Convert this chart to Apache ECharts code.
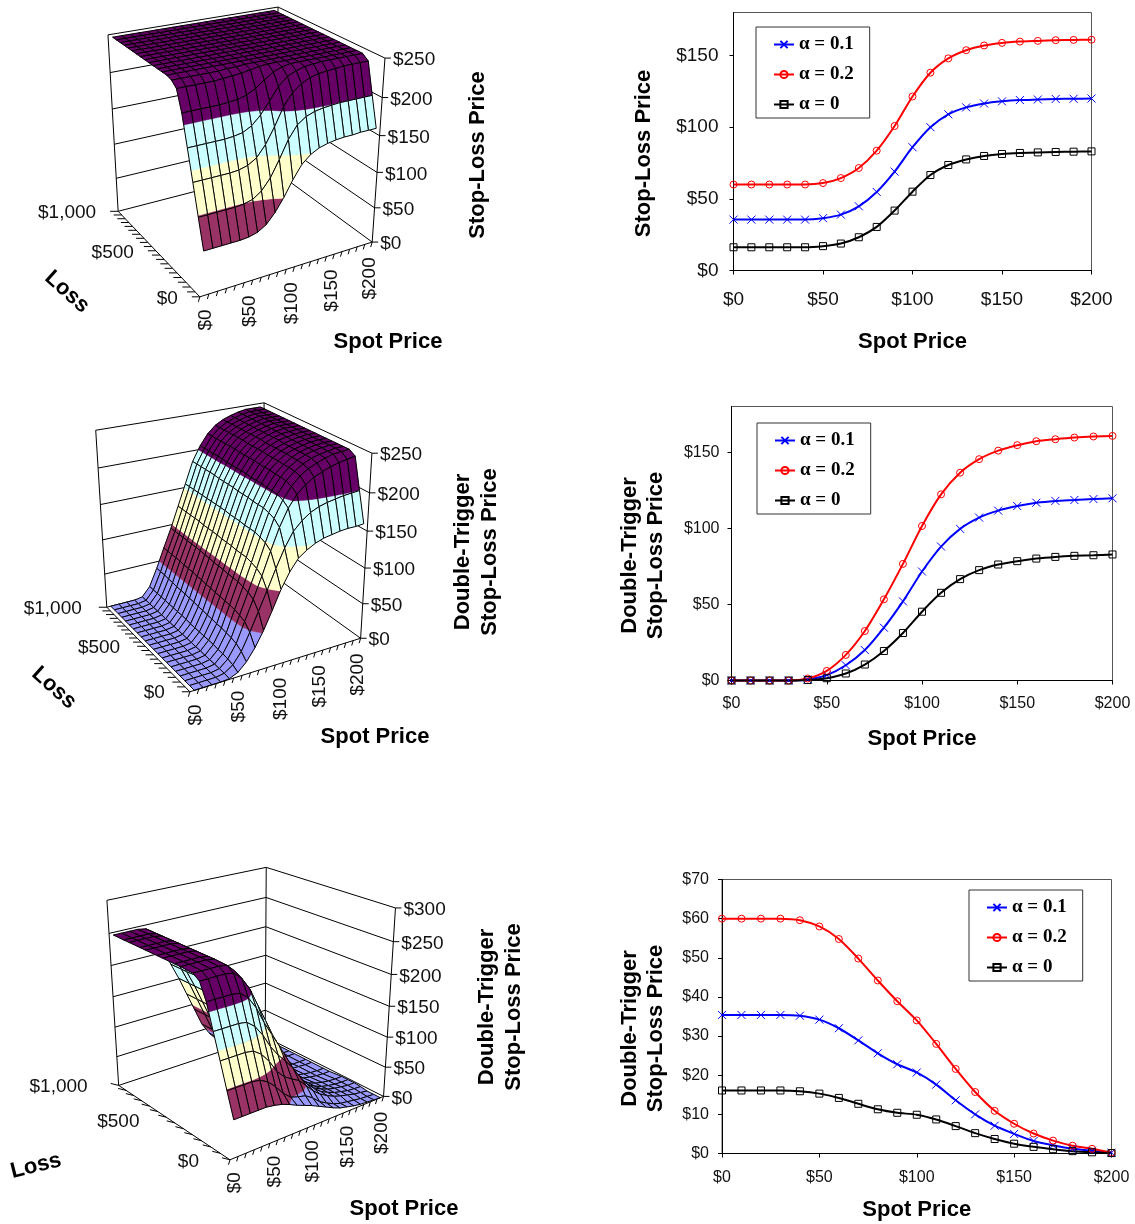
<!DOCTYPE html>
<html><head><meta charset="utf-8">
<style>html,body{margin:0;padding:0;background:#fff}#c{width:1135px;height:1224px}</style>
<script src="https://cdn.jsdelivr.net/npm/echarts@6/dist/echarts.min.js"></script>
</head><body><div id="c"></div>
<script>
// ---------- data ----------
const spotPrices=[0,10,20,30,40,50,60,70,80,90,100,110,120,130,140,150,160,170,180,190,200];
const alphaNames=['α = 0.1','α = 0.2','α = 0'];

const stopLoss01=[35.5,35.5,35.5,35.5,35.5,36.5,39,44.8,54.8,69,86,100,109,113.8,116.5,118,118.9,119.3,119.7,119.8,120];
const stopLoss02=[60,60,60,60,60,61,64.5,71.5,83.6,100.8,121.4,138,148,153.7,157,158.8,159.7,160.2,160.7,160.9,161];
const stopLoss00=[16.2,16.2,16.2,16.2,16.2,17,18.8,23.2,30.4,41.8,55,66.6,73.6,77.5,79.9,81.3,82,82.4,82.7,82.9,83.1];

const double01=[0,0,0,0,0.7,3.5,10,20,34.7,52,71.6,88,99.6,107,111.6,114.6,116.8,118,118.6,119.2,119.7];
const double02=[0,0,0,0,1.3,6.3,16.8,32.5,53.3,76.6,101.5,122.3,136.5,145.4,151,154.6,157.2,158.5,159.6,160.3,160.7];
const double00=[0,0,0,0,0.3,1.5,4.6,10.5,19.4,31.2,45.2,57.6,66.6,72.5,76.2,78.4,80.1,81.2,81.9,82.3,82.8];

const diff01=[35.4,35.4,35.4,35.4,35.2,34.2,32,28.9,25.6,22.8,20.7,17.6,13.6,10,7.1,5,3.2,2.1,1.2,0.7,0.2];
const diff02=[60,60,60,60,59.6,58,54.8,49.8,44.2,38.9,34,28,21.6,15.7,10.9,7.6,5.1,3.3,2,1.2,0.2];
const diff00=[16.1,16.1,16.1,16.1,15.9,15.3,14.2,12.7,11.3,10.4,9.9,8.7,7,5.2,3.7,2.5,1.7,1.1,0.6,0.3,0.1];

// surfaces: one row per loss level ($0, $50, ... $1,000), one value per spot price
const surfaceStopLoss=[
[60,60,60,60,60,61,64,71,84,101,121,138,148,154,157,159,160,160,161,161,161],
[98,98,98,98,98,99,102,110,124,145,168,184,192,196,198,199,200,200,200,200,200],
[137,137,137,137,137,138,141,148,162,182,205,220,229,234,237,238,239,240,240,240,240],
[175,175,175,175,175,176,178,184,195,210,226,236,241,244,245,246,246,246,246,246,246],
[213,213,213,213,213,214,215,218,224,232,240,244,246,246,246,246,246,246,246,246,246],
[238,238,238,238,238,239,240,241,243,245,246,246,246,246,246,246,246,246,246,246,246],
[244,244,244,244,244,244,245,245,246,246,246,246,246,246,246,246,246,246,246,246,246],
[246,246,246,246,246,246,246,246,246,246,246,246,246,246,246,246,246,246,246,246,246],
[246,246,246,246,246,246,246,246,246,246,246,246,246,246,246,246,246,246,246,246,246],
[246,246,246,246,246,246,246,246,246,246,246,246,246,246,246,246,246,246,246,246,246],
[246,246,246,246,246,246,246,246,246,246,246,246,246,246,246,246,246,246,246,246,246],
[246,246,246,246,246,246,246,246,246,246,246,246,246,246,246,246,246,246,246,246,246],
[246,246,246,246,246,246,246,246,246,246,246,246,246,246,246,246,246,246,246,246,246],
[246,246,246,246,246,246,246,246,246,246,246,246,246,246,246,246,246,246,246,246,246],
[246,246,246,246,246,246,246,246,246,246,246,246,246,246,246,246,246,246,246,246,246],
[246,246,246,246,246,246,246,246,246,246,246,246,246,246,246,246,246,246,246,246,246],
[246,246,246,246,246,246,246,246,246,246,246,246,246,246,246,246,246,246,246,246,246],
[246,246,246,246,246,246,246,246,246,246,246,246,246,246,246,246,246,246,246,246,246],
[246,246,246,246,246,246,246,246,246,246,246,246,246,246,246,246,246,246,246,246,246],
[246,246,246,246,246,246,246,246,246,246,246,246,246,246,246,246,246,246,246,246,246],
[246,246,246,246,246,246,246,246,246,246,246,246,246,246,246,246,246,246,246,246,246]];

const surfaceDouble=[
[0,0,0,0,1,6,17,33,53,77,102,122,137,145,151,155,157,159,160,160,161],
[0,0,0,0,2,10,25,48,73,98,124,148,167,178,186,191,194,196,198,199,200],
[0,0,0,0,2,12,30,57,84,112,142,170,192,207,217,224,229,233,236,238,240],
[0,0,0,0,2,13,32,60,88,117,148,177,198,213,224,231,236,240,243,244,245],
[0,0,0,0,2,13,33,62,90,120,151,180,201,216,226,233,238,241,243,245,245],
[0,0,0,0,2,14,34,63,92,122,153,182,202,217,227,234,239,242,244,245,245],
[0,0,0,0,2,14,34,63,92,122,153,182,202,217,227,234,239,242,244,245,245],
[0,0,0,0,2,14,35,64,92,122,153,182,203,218,228,235,239,242,244,245,245],
[0,0,0,0,2,14,35,64,93,123,154,183,203,218,228,235,239,242,244,245,245],
[0,0,0,0,2,14,36,65,93,123,154,183,203,218,228,235,239,242,244,245,245],
[0,0,0,0,2,14,36,65,93,123,154,183,204,219,229,235,240,242,244,245,245],
[0,0,0,0,2,15,37,66,94,124,155,184,204,219,229,235,240,243,244,245,245],
[0,0,0,0,2,15,37,66,94,124,155,184,204,219,229,236,240,243,245,245,245],
[0,0,0,0,2,15,38,67,95,124,155,184,204,219,229,236,240,243,245,245,245],
[0,0,0,0,2,15,38,67,95,124,155,184,204,220,230,236,240,243,245,245,245],
[0,0,0,0,2,15,38,67,95,125,155,185,205,220,230,236,240,243,245,245,245],
[0,0,0,0,2,15,39,68,95,125,155,185,205,220,230,236,240,243,245,245,245],
[0,0,0,0,2,15,39,68,95,125,155,185,205,220,230,236,240,243,245,245,245],
[0,0,0,0,2,15,40,68,95,125,155,185,205,220,230,236,240,243,245,245,245],
[0,0,0,0,2,15,40,68,95,125,155,185,205,220,230,236,240,243,245,245,245],
[0,0,0,0,2,15,40,68,95,125,155,185,205,220,230,236,240,243,245,245,245]];

const surfaceDiff=[
[60,60,60,60,60,58,55,50,44,39,34,28,22,16,11,8,5,3,2,1,0],
[98,98,98,98,96,89,77,62,51,47,44,36,25,18,12,8,6,4,2,1,0],
[137,137,137,137,135,126,111,91,78,70,63,50,37,27,20,14,10,7,4,2,0],
[175,175,175,175,173,163,146,124,107,93,78,59,43,31,21,15,10,7,4,3,2],
[213,213,213,213,211,201,182,156,134,112,89,64,45,31,21,15,10,7,5,3,3],
[238,238,238,238,236,225,206,178,151,123,93,65,46,31,21,14,9,6,4,3,3],
[245,245,245,245,243,231,212,183,155,125,94,66,46,31,21,14,9,6,4,3,3],
[246,246,246,246,244,232,211,182,154,124,93,64,43,28,18,11,7,4,2,1,1],
[246,246,246,246,244,232,211,182,153,123,92,63,43,28,18,11,7,4,2,1,1],
[246,246,246,246,244,232,210,181,153,123,92,63,43,28,18,11,7,4,2,1,1],
[246,246,246,246,244,232,210,181,153,123,92,63,42,27,17,11,6,4,2,1,1],
[246,246,246,246,244,231,209,180,152,122,91,62,42,27,17,11,6,3,2,1,1],
[246,246,246,246,244,231,209,180,152,122,91,62,42,27,17,10,6,3,1,1,1],
[246,246,246,246,244,231,208,179,151,122,91,62,42,27,17,10,6,3,1,1,1],
[246,246,246,246,244,231,208,179,151,122,91,62,42,26,16,10,6,3,1,1,1],
[246,246,246,246,244,231,208,179,151,121,91,61,41,26,16,10,6,3,1,1,1],
[246,246,246,246,244,231,207,178,151,121,91,61,41,26,16,10,6,3,1,1,1],
[246,246,246,246,244,231,207,178,151,121,91,61,41,26,16,10,6,3,1,1,1],
[246,246,246,246,244,231,206,178,151,121,91,61,41,26,16,10,6,3,1,1,1],
[246,246,246,246,244,231,206,178,151,121,91,61,41,26,16,10,6,3,1,1,1],
[246,246,246,246,244,231,206,178,151,121,91,61,41,26,16,10,6,3,1,1,1]];

const allLossRows=[0,1,2,3,4,5,6,7,8,9,10,11,12,13,14,15,16,17,18,19,20];
const diffLossRows=[0,1,2,3,4,5,6,8,9,11,12,14,15,17,18,20];
const spotTickLabels=[0,50,100,150,200];
const lossTickLabels=[0,500,1000];
const zTicks250=[0,50,100,150,200,250];
const zTicks300=[0,50,100,150,200,250,300];

// ---------- styling ----------
const BANDS=[[0,50,'#9999FF'],[50,100,'#993366'],[100,150,'#FFFFCC'],[150,200,'#CCFFFF'],[200,250,'#660066'],[250,300,'#FF8080']];
const SANS='"Liberation Sans", Arial, sans-serif';
const money=v=>'$'+String(v).replace(/\B(?=(\d{3})+$)/,',');

// ---------- perspective scale fitted to the drawn box of each 3D panel ----------
function fit(anchors){
  const n=11,M=Array.from({length:n},()=>new Array(n+1).fill(0));
  const add=(r,t)=>{for(let i=0;i<n;i++){for(let j=0;j<n;j++)M[i][j]+=r[i]*r[j];M[i][n]+=r[i]*t;}};
  anchors.forEach(([s,l,h,x,y])=>{
    add([s,l,h,1,0,0,0,0,-x*s,-x*l,-x*h],x);
    add([0,0,0,0,s,l,h,1,-y*s,-y*l,-y*h],y);
  });
  for(let i=0;i<n;i++){
    let p=i;for(let k=i+1;k<n;k++)if(Math.abs(M[k][i])>Math.abs(M[p][i]))p=k;
    [M[i],M[p]]=[M[p],M[i]];
    for(let k=0;k<n;k++)if(k!==i){const f=M[k][i]/M[i][i];for(let j=i;j<=n;j++)M[k][j]-=f*M[i][j];}
  }
  return M.map((r,i)=>r[n]/r[i]);
}
function makeProj(anchors){
  const P=fit(anchors);
  return (s,l,h)=>{const w=P[8]*s+P[9]*l+P[10]*h+1;
    return [(P[0]*s+P[1]*l+P[2]*h+P[3])/w,(P[4]*s+P[5]*l+P[6]*h+P[7])/w];};
}
const N=spotPrices.length;
const cellU=i=>(i+0.5)/N;        // spot positions sit half a cell inside the axis
const cellV=i=>i/20;             // loss rows run the whole axis

function clipBand(poly,lo,hi){
  const cut=(pts,keep,level)=>{const out=[];
    for(let i=0;i<pts.length;i++){const a=pts[i],b=pts[(i+1)%pts.length],ka=keep(a[2]),kb=keep(b[2]);
      if(ka)out.push(a);
      if(ka!==kb){const t=(level-a[2])/(b[2]-a[2]);out.push([a[0]+t*(b[0]-a[0]),a[1]+t*(b[1]-a[1]),level]);}
    }return out;};
  let r=cut(poly,z=>z>=lo,lo);
  if(r.length)r=cut(r,z=>z<=hi,hi);
  return r;
}

function panelSeries(p){
  const proj=makeProj(p.anchors);
  const zMax=p.zTicks[p.zTicks.length-1];
  const pt=(s,l,z)=>proj(s,l,z/zMax);
  const walls=[];
  p.zTicks.forEach(z=>walls.push([pt(0,1,z),pt(1,1,z),pt(1,0,z)]));
  walls.push([pt(0,1,0),pt(0,1,zMax)]);
  walls.push([pt(1,1,0),pt(1,1,zMax)]);
  walls.push([pt(1,0,0),pt(1,0,zMax)]);
  const lineEl=(pts,w)=>({type:'polyline',shape:{points:pts},style:{stroke:'#000',lineWidth:w||1,fill:'none'}});
  const wallSeries={type:'custom',coordinateSystem:'none',silent:true,z:2,animation:false,
    data:walls.map((_,i)=>i),renderItem:(a)=>lineEl(walls[a.dataIndex])};
  const cells=[];
  for(let r=p.lossRows.length-2;r>=0;r--)for(let s=N-2;s>=0;s--){
    const l0=p.lossRows[r],l1=p.lossRows[r+1];
    cells.push([s,l0,l1,p.surface[l0][s],p.surface[l0][s+1],p.surface[l1][s+1],p.surface[l1][s]]);
  }
  const surf={type:'custom',coordinateSystem:'none',silent:true,z:3,animation:false,data:cells,
    renderItem:(a,api)=>{
      const si=api.value(0);
      const u0=cellU(si),u1=cellU(si+1),v0=cellV(api.value(1)),v1=cellV(api.value(2));
      const poly=[[u0,v0,api.value(3)],[u1,v0,api.value(4)],[u1,v1,api.value(5)],[u0,v1,api.value(6)]];
      const ch=[];
      BANDS.forEach(([lo,hi,c])=>{
        const part=clipBand(poly,lo,hi);
        if(part.length>2)ch.push({type:'polygon',shape:{points:part.map(q=>pt(q[0],q[1],q[2]))},
          style:{fill:c,stroke:c,lineWidth:0.4}});
      });
      ch.push({type:'polygon',shape:{points:poly.map(q=>pt(q[0],q[1],q[2]))},style:{fill:'none',stroke:'#000',lineWidth:1}});
      return {type:'group',children:ch};
    }};
  const marks=[];
  const A=pt(0,0,0),B=pt(1,0,0),C=pt(0,1,0);
  marks.push({line:[A,B]},{line:[A,C]});
  for(let i=0;i<=N;i++){
    const q=pt(i/N,0,0);marks.push({line:[q,[q[0]-1.5,q[1]+5]]});
  }
  for(let i=0;i<=p.lossTickSteps;i++){
    const r=pt(0,i/p.lossTickSteps,0);marks.push({line:[r,[r[0]-8,r[1]+p.lossTickDy]]});
  }
  spotTickLabels.forEach(v=>{
    const q=pt(cellU(spotPrices.indexOf(v)),0,0);
    marks.push({text:money(v),x:q[0]+1,y:q[1]+14,rot:Math.PI/2,align:'right'});
  });
  lossTickLabels.forEach(v=>{
    const q=pt(0,v/1000,0);
    marks.push({text:money(v),x:q[0]-p.lossLabelGap,y:q[1]+1.5,rot:0,align:'right'});
  });
  p.zTicks.forEach(z=>{
    const q=pt(1,0,z);
    marks.push({line:[q,[q[0]+6,q[1]]]});
    marks.push({text:money(z),x:q[0]+8,y:q[1]+2,rot:0,align:'left'});
  });
  const axisSeries={type:'custom',coordinateSystem:'none',silent:true,z:4,animation:false,
    data:marks.map((_,i)=>i),renderItem:(a)=>{
      const m=marks[a.dataIndex];
      if(m.line)return lineEl(m.line);
      return {type:'text',x:m.x,y:m.y,rotation:m.rot,
        style:{text:m.text,font:'19px '+SANS,fill:'#111',align:m.align,verticalAlign:'middle'}};
    }};
  return [wallSeries,surf,axisSeries];
}

const panels=[
 {surface:surfaceStopLoss,lossRows:allLossRows,lossTickSteps:20,lossTickDy:0,zTicks:zTicks250,lossLabelGap:22,
  anchors:[[0,0,0,200,297],[1,0,0,372,242],[0,1,0,118,211],[1,1,0,275,171],[1,0,1,385,58],[0,1,1,108,35],[1,1,1,278,7]]},
 {surface:surfaceDouble,lossRows:allLossRows,lossTickSteps:20,lossTickDy:0,zTicks:zTicks250,lossLabelGap:25,
  anchors:[[0,0,0,190,692.7],[1,0,0,360.7,637.3],[0,1,0,106.7,606],[1,1,0,262,568.7],[1,0,1,371.7,453.3],[0,1,1,95.7,430.7],[1,1,1,264.3,402.3]]},
 {surface:surfaceDiff,lossRows:diffLossRows,lossTickSteps:13,lossTickDy:-2,zTicks:zTicks300,lossLabelGap:31,
  anchors:[[0,0,0,230,1161],[1,0,0,383.3,1095],[0,1,0,118.3,1084],[1,1,0,265.7,1038.3],[1,0,1,395.7,908.3],[0,1,1,107.3,900.7],[1,1,1,265.7,866.7]]}
];

// ---------- line charts ----------
const lineGrids=[
 {left:733.5,top:12.5,width:358,height:258,max:180,interval:50,ticks:[0,50,100,150],font:19,xMargin:20,yMargin:15,xGap:60,yName:'Stop-Loss Price',nameGap:77,pad:24,
  series:[stopLoss01,stopLoss02,stopLoss00],legend:{left:756,top:27}},
 {left:731.5,top:406.5,width:381,height:274,max:180,interval:50,ticks:[0,50,100,150],font:16,xMargin:15,yMargin:12,xGap:47,yName:'Double-Trigger\nStop-Loss Price',nameGap:63,pad:24,
  series:[double01,double02,double00],legend:{left:757,top:423}},
 {left:722,top:879.5,width:389.5,height:274,max:70,interval:10,ticks:[0,10,20,30,40,50,60,70],font:16,xMargin:16,yMargin:13,xGap:45,yName:'Double-Trigger\nStop-Loss Price',nameGap:53,pad:24,
  series:[diff01,diff02,diff00],legend:{left:969,top:890}}
];
const lineColors=['#0000FF','#FF0000','#000000'];
const lineSymbols=['path://M0,0L10,10M10,0L0,10','circle','rect'];
const lineSymbolSizes=[8,7,7];

const option={animation:false,backgroundColor:'#fff',grid:[],xAxis:[],yAxis:[],legend:[],series:[],graphic:[]};
lineGrids.forEach((g,gi)=>{
  option.grid.push({left:g.left,top:g.top,width:g.width,height:g.height,show:true,borderColor:'#555',borderWidth:1,backgroundColor:'transparent',containLabel:false,outerBoundsMode:'none'});
  const axisLine={show:true,onZero:false,lineStyle:{color:'#000',width:1}};
  option.xAxis.push({type:'value',gridIndex:gi,min:0,max:200,interval:50,splitLine:{show:false},axisLine,
    axisTick:{show:true,length:4,lineStyle:{color:'#000'}},
    axisLabel:{color:'#111',fontFamily:SANS,fontSize:g.font,margin:g.xMargin,formatter:v=>money(v)},
    name:'Spot Price',nameLocation:'middle',nameGap:g.xGap,nameTextStyle:{fontFamily:SANS,fontWeight:'bold',fontSize:22,color:'#000'}});
  option.yAxis.push({type:'value',gridIndex:gi,min:0,max:g.max,interval:g.interval,splitLine:{show:false},axisLine,
    axisTick:{show:true,length:4,customValues:g.ticks,lineStyle:{color:'#000'}},
    axisLabel:{color:'#111',fontFamily:SANS,fontSize:g.font,margin:g.yMargin,customValues:g.ticks,padding:[2,0,0,0],formatter:v=>money(v)},
    name:g.yName,nameLocation:'middle',nameGap:g.nameGap,nameRotate:90,
    nameTextStyle:{fontFamily:SANS,fontWeight:'bold',fontSize:22,color:'#000',lineHeight:26,padding:[0,g.pad,0,0]}});
  option.legend.push({left:g.legend.left,top:g.legend.top,orient:'vertical',data:alphaNames,padding:[8,16,4,17],
    itemWidth:20,itemHeight:9,itemGap:11,selectedMode:false,backgroundColor:'#fff',borderColor:'#333',borderWidth:1,
    textStyle:{fontFamily:'"Liberation Serif", serif',fontWeight:'bold',fontSize:19,color:'#000'}});
  g.series.forEach((vals,si)=>{
    option.series.push({type:'line',name:alphaNames[si],xAxisIndex:gi,yAxisIndex:gi,smooth:0.25,z:5,
      data:spotPrices.map((s,i)=>[s,vals[i]]),symbol:lineSymbols[si],symbolSize:lineSymbolSizes[si],showAllSymbol:true,
      lineStyle:{color:lineColors[si],width:2},
      itemStyle:{color:'transparent',borderColor:lineColors[si],borderWidth:1},
      clip:false});
  });
});
panels.forEach(p=>option.series.push(...panelSeries(p)));

const bold=(text,x,y,rot)=>({type:'text',x,y,rotation:(rot||0)*Math.PI/180,silent:true,z:10,
  style:{text,font:'bold 22px '+SANS,fill:'#000',align:'center',verticalAlign:'middle'}});
option.graphic=[
 bold('Stop-Loss Price',478,155,90),bold('Spot Price',388,342),bold('Loss',67,292,-42),
 bold('Double-Trigger',463,552,90),bold('Stop-Loss Price',490,552,90),bold('Spot Price',375,737),bold('Loss',54,688,-42),
 bold('Double-Trigger',487,1007,90),bold('Stop-Loss Price',514,1007,90),bold('Spot Price',404,1209),bold('Loss',36,1166,14)
];
echarts.init(document.getElementById('c')).setOption(option);
</script></body></html>
